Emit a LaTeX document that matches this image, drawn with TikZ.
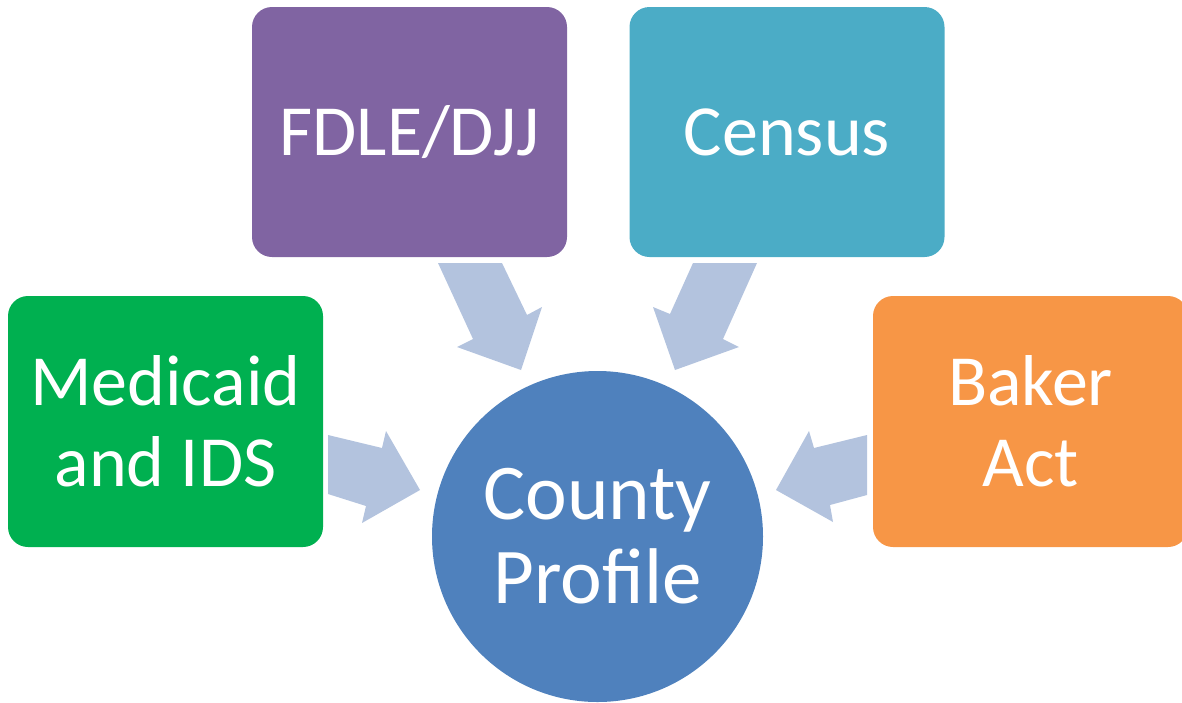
\documentclass[tikz,border=0pt]{standalone}
\usepackage{fontspec}
\setmainfont{Carlito}
\definecolor{cpurple}{HTML}{8064A2}
\definecolor{cteal}{HTML}{4BACC6}
\definecolor{cgreen}{HTML}{00B050}
\definecolor{corange}{HTML}{F79646}
\definecolor{cblue}{HTML}{4F81BD}
\definecolor{carrow}{HTML}{B3C3DE}
\begin{document}
\begin{tikzpicture}[x=1pt,y=-1pt,
  srcbox/.style={rectangle,rounded corners=20pt,inner sep=0pt,text=white,align=center,
    font=\fontsize{72}{81}\selectfont},
  hub/.style={circle,inner sep=0pt,minimum size=331pt,fill=cblue,text=white,align=center,
    font=\fontsize{79}{84}\selectfont},
  blockarrow/.style={fill=carrow,draw=none}]
\useasboundingbox (0,0) rectangle (1182,702);
% arrows
\fill[blockarrow] (328,435) -- (382,448) -- (386,431) -- (420,490) -- (362,523) -- (366,506) -- (328,494) -- cycle;
\fill[blockarrow] (867,435) -- (814,448) -- (809,431) -- (776,490) -- (833,522) -- (830,505) -- (867,495) -- cycle;
\fill[blockarrow] (438,263) -- (502,263) -- (527,315) -- (542,307) -- (521,370) -- (457,347) -- (473,339) -- cycle;
\fill[blockarrow] (757,263) -- (693,263) -- (670,314) -- (653,307) -- (675,370) -- (739,347) -- (723,339) -- cycle;
% boxes
\node[srcbox,fill=cpurple,minimum width=315pt,minimum height=250pt] (fdle) at (409.5,132) {FDLE/DJJ};
\node[srcbox,fill=cteal,minimum width=315pt,minimum height=250pt] (census) at (787,132) {Census};
\node[srcbox,fill=cgreen,minimum width=315pt,minimum height=251pt] (medicaid) at (165.5,421.5) {Medicaid\\and IDS};
\node[srcbox,fill=corange,minimum width=315pt,minimum height=251pt] (baker) at (1030.5,421.5) {Baker\\Act};
\node[hub] (county) at (597.5,536.5) {County\\Profile};
\end{tikzpicture}
\end{document}
